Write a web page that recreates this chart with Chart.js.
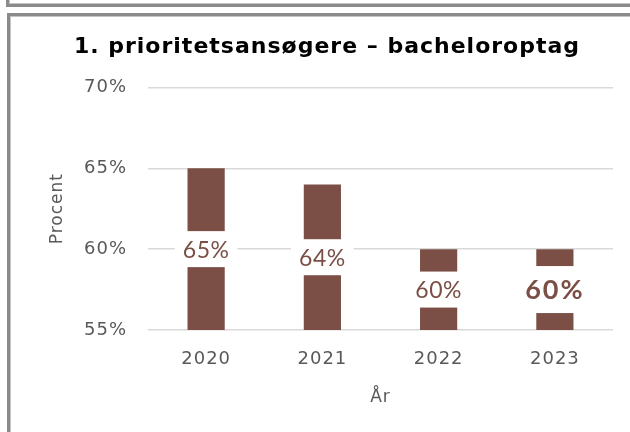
<!DOCTYPE html>
<html lang="da">
<head>
<meta charset="utf-8">
<title>1. prioritetsansøgere – bacheloroptag</title>
<script src="https://cdn.jsdelivr.net/npm/chart.js@4/dist/chart.umd.min.js"></script>
<style>
    html, body { margin: 0; padding: 0; background: #fff; }
    #wrap { position: relative; width: 630px; height: 432px; overflow: hidden; }
    #graf { position: absolute; left: 0; top: 0; }
    .ramme { position: absolute; border: 3px solid #8a8a8a; box-shadow: inset 0 0 0 1px #c4c4c4; pointer-events: none; }
    #rammeTop { left: 6px; top: -20px; width: 700px; height: 21px; }
    #rammeGraf { left: 7px; top: 13px; width: 700px; height: 500px; }
</style>
</head>
<body>
<div id="wrap">
    <canvas id="graf" width="630" height="432"></canvas>
    <div class="ramme" id="rammeTop"></div>
    <div class="ramme" id="rammeGraf"></div>
</div>
<script>
// Data
const aar = ['2020', '2021', '2022', '2023'];
const procent = [65, 64, 60, 60];
const yTicks = [55, 60, 65, 70];
const fremhaevIndex = 3; // sidste år vises med fed skrift

const brun = '#7b4f45';
const graaTekst = '#595959';

// Skriver procent-etiketter midt i søjlerne på en hvid boks
const etiketPlugin = {
    id: 'etiketter',
    afterDraw(chart) {
        const c = chart.ctx;
        const meta = chart.getDatasetMeta(0);
        const yScale = chart.scales.y;
        c.save();
        meta.data.forEach((bar, i) => {
            const fed = i === fremhaevIndex;
            const size = fed ? 27 : 23;
            const boksH = fed ? 47 : 36;
            c.font = (fed ? 'bold ' : '') + size + 'px Lato';
            c.letterSpacing = fed ? '2px' : '0.5px';
            const tekst = procent[i] + '%';
            const w = c.measureText(tekst).width + 16;
            const top = yScale.getPixelForValue(procent[i]);
            const bund = yScale.getPixelForValue(yScale.min);
            const cy = (top + bund) / 2;
            c.fillStyle = '#fff';
            c.fillRect(bar.x - w / 2, cy - boksH / 2, w, boksH);
            c.fillStyle = brun;
            c.textAlign = 'center';
            c.textBaseline = 'middle';
            c.fillText(tekst, bar.x, cy + 1);
        });
        c.restore();
    }
};

// Lidt luft mellem bogstaverne som i originalen
const spacingPlugin = {
    id: 'spacing',
    beforeDraw(chart) {
        chart.ctx.letterSpacing = '1px';
    }
};

const canvas = document.getElementById('graf');
new Chart(canvas, {
    type: 'bar',
    data: {
        labels: aar,
        datasets: [{
            data: procent,
            backgroundColor: brun,
            borderWidth: 0,
            barPercentage: 0.32,
            categoryPercentage: 1
        }]
    },
    options: {
        responsive: false,
        animation: false,
        layout: { padding: { left: 41, right: 17, top: 0, bottom: 0 } },
        plugins: {
            legend: { display: false },
            tooltip: { enabled: false },
            title: {
                display: true,
                text: '1. prioritetsansøgere – bacheloroptag',
                color: '#000',
                font: { family: 'DejaVu Sans', size: 22, weight: 'bold' },
                padding: { top: 34, bottom: 27 }
            }
        },
        scales: {
            x: {
                grid: { display: false, drawTicks: false },
                border: { display: false },
                ticks: {
                    color: graaTekst,
                    font: { family: 'DejaVu Sans', size: 18 },
                    padding: 19
                },
                title: {
                    display: true,
                    text: 'År',
                    color: graaTekst,
                    font: { family: 'DejaVu Sans', size: 17 },
                    padding: { top: 0, bottom: 24 }
                },
                afterFit(scale) { scale.height = 102; }
            },
            y: {
                min: yTicks[0],
                max: yTicks[yTicks.length - 1],
                afterBuildTicks(scale) { scale.ticks = yTicks.map(v => ({ value: v })); },
                grid: { color: '#d9d9d9', lineWidth: 1.5, drawTicks: false },
                border: { display: false },
                ticks: {
                    color: graaTekst,
                    font: { family: 'DejaVu Sans', size: 18 },
                    padding: 21,
                    callback: v => v + '%'
                },
                title: {
                    display: true,
                    text: 'Procent',
                    color: graaTekst,
                    font: { family: 'DejaVu Sans', size: 17 },
                    padding: { top: 6, bottom: 0 }
                },
                afterFit(scale) { scale.width = 107; }
            }
        }
    },
    plugins: [spacingPlugin, etiketPlugin]
});
</script>
</body>
</html>
